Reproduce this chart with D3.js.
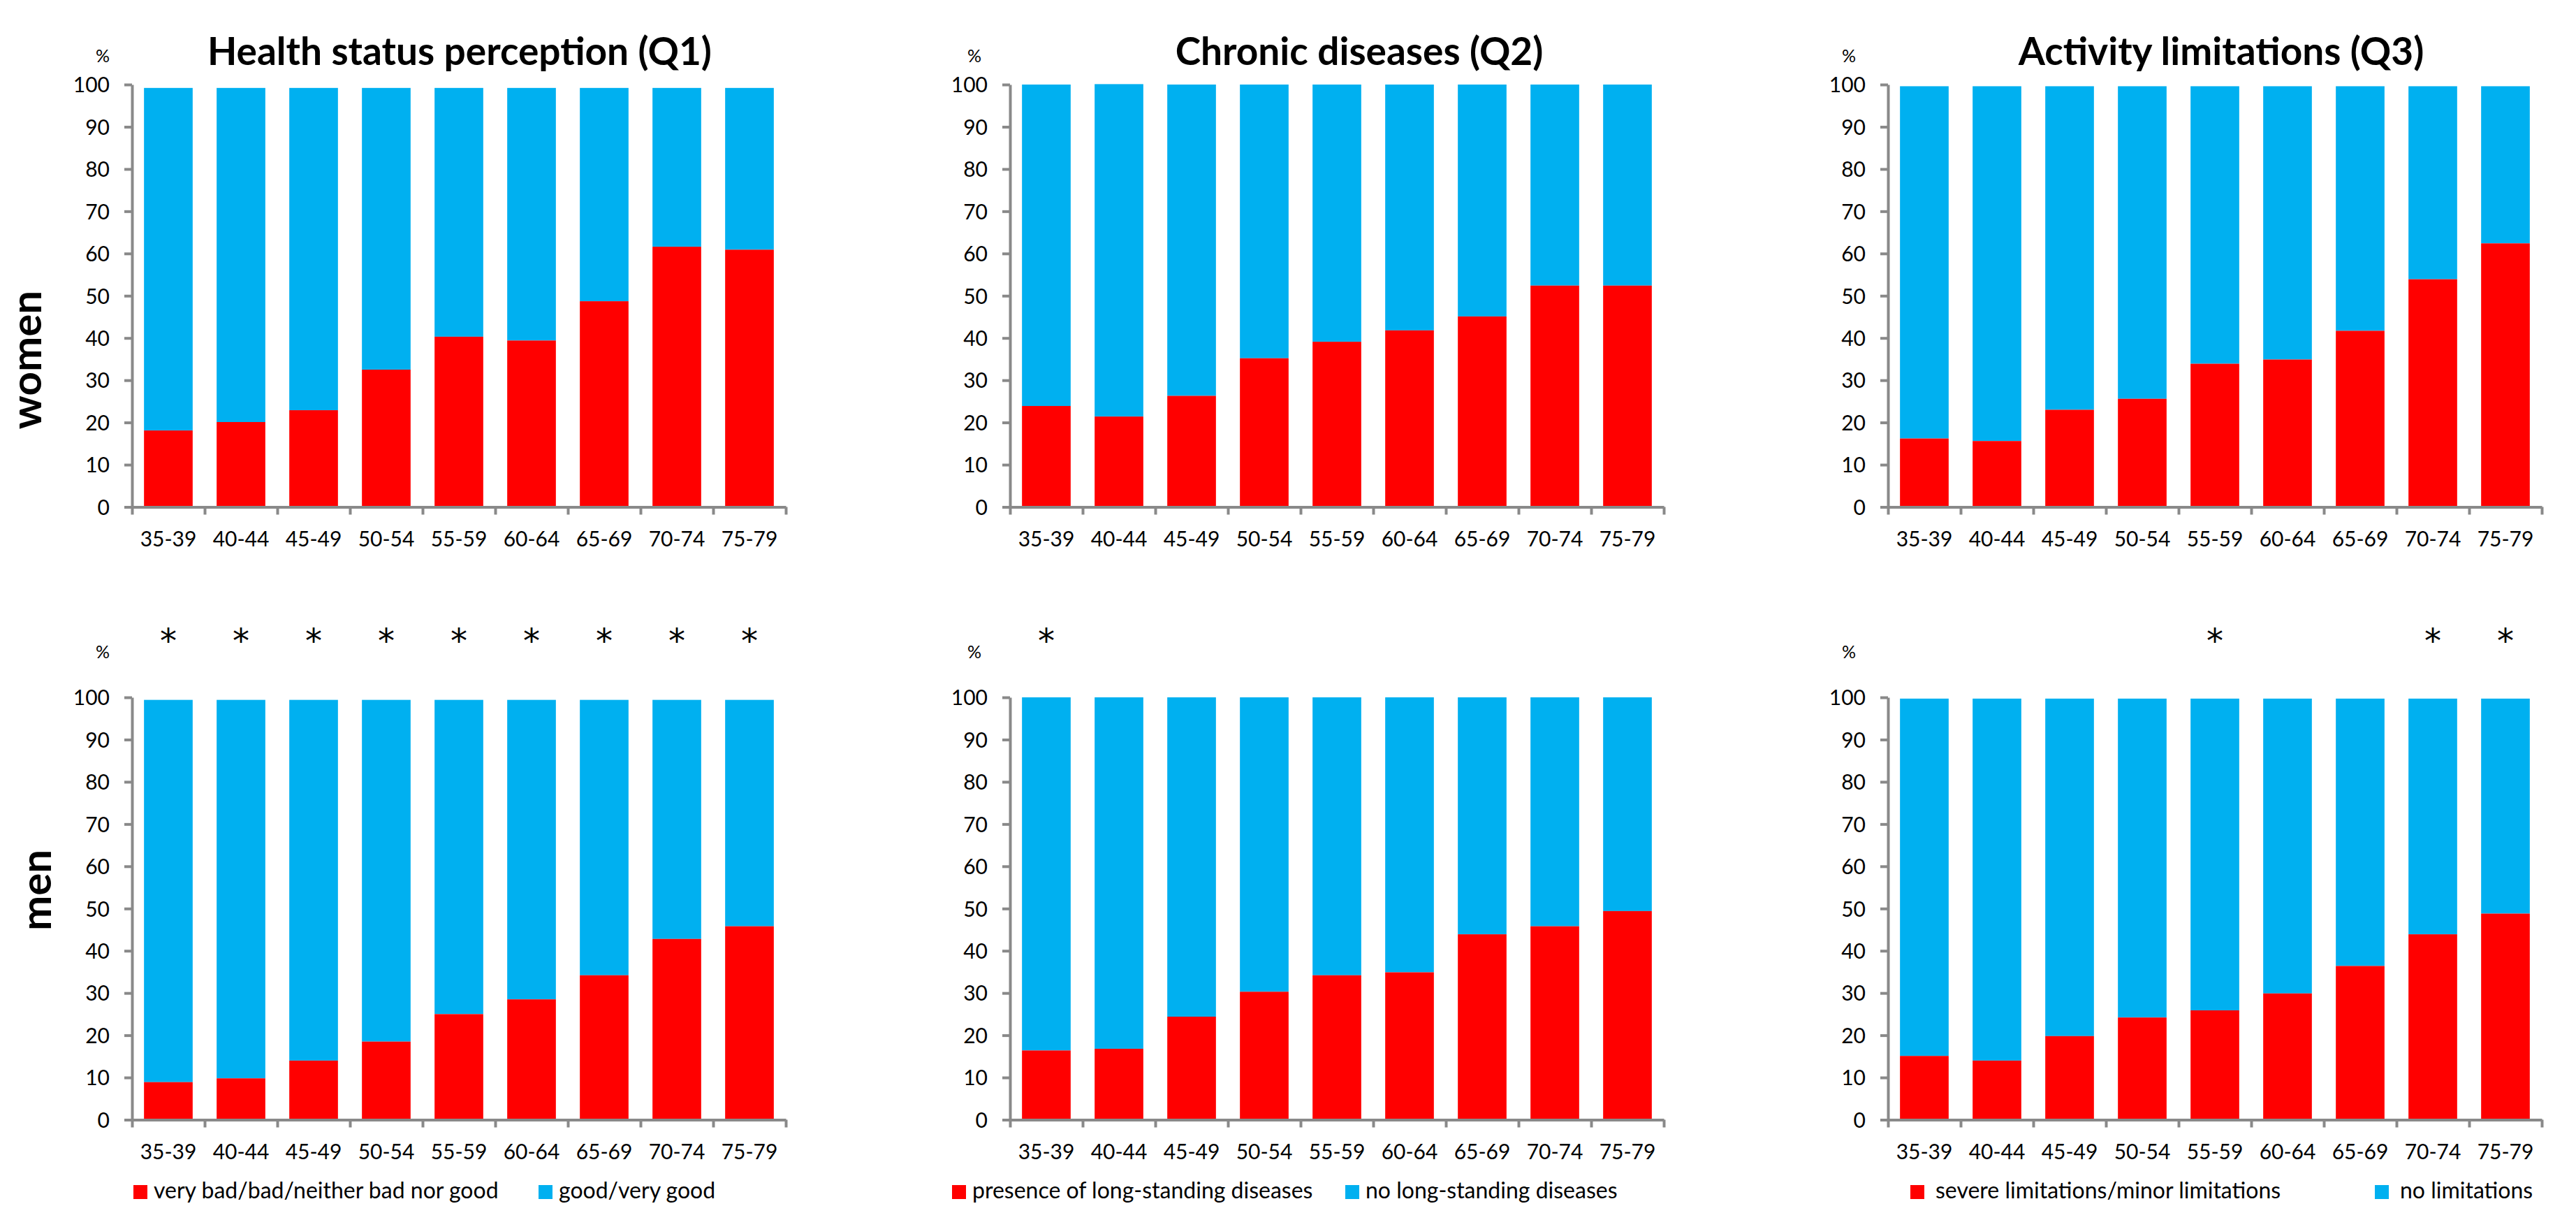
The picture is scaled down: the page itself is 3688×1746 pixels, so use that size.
<!DOCTYPE html>
<html>
<head>
<meta charset="utf-8">
<script src="https://cdn.jsdelivr.net/npm/d3@7"></script>
<style>
  body { margin: 0; background: #fff; }
  text { font-family: Lato, "Open Sans", sans-serif; fill: #000; }
</style>
</head>
<body>
<script>
// age groups on the x axis
const ageGroups = ["35-39", "40-44", "45-49", "50-54", "55-59", "60-64", "65-69", "70-74", "75-79"];
const yTicks = [0, 10, 20, 30, 40, 50, 60, 70, 80, 90, 100];

// Q1 health status perception
const womenBadHealth = [18.1, 20.1, 22.9, 32.5, 40.3, 39.4, 48.7, 61.6, 60.9];
const womenGoodHealth = [81.1, 79.1, 76.3, 66.7, 58.9, 59.8, 50.5, 37.6, 38.3];
const menBadHealth = [8.9, 9.8, 14.0, 18.5, 25.0, 28.5, 34.2, 42.8, 45.8];
const menGoodHealth = [90.5, 89.6, 85.4, 80.9, 74.4, 70.9, 65.2, 56.6, 53.6];

// Q2 chronic diseases
const womenChronic = [23.9, 21.4, 26.3, 35.2, 39.1, 41.8, 45.1, 52.4, 52.4];
const womenNoChronic = [76.1, 78.7, 73.7, 64.8, 60.9, 58.2, 54.9, 47.6, 47.6];
const menChronic = [16.4, 16.8, 24.4, 30.3, 34.2, 34.9, 43.9, 45.8, 49.4];
const menNoChronic = [83.6, 83.2, 75.6, 69.7, 65.8, 65.1, 56.1, 54.2, 50.6];

// Q3 activity limitations
const womenLimited = [16.2, 15.6, 23.0, 25.6, 33.9, 34.9, 41.7, 53.9, 62.4];
const womenNotLimited = [83.4, 84.0, 76.6, 74.0, 65.7, 64.7, 57.9, 45.7, 37.2];
const menLimited = [15.1, 14.0, 19.8, 24.2, 25.9, 29.9, 36.4, 43.9, 48.8];
const menNotLimited = [84.6, 85.7, 79.9, 75.5, 73.8, 69.8, 63.3, 55.8, 50.9];

// significant differences (marked with * above the men chart)
const q1Stars = ["35-39", "40-44", "45-49", "50-54", "55-59", "60-64", "65-69", "70-74", "75-79"];
const q2Stars = ["35-39"];
const q3Stars = ["55-59", "70-74", "75-79"];

const titles = ["Health status perception (Q1)", "Chronic diseases (Q2)", "Activity limitations (Q3)"];
const redLabels = ["very bad/bad/neither bad nor good", "presence of long-standing diseases", "severe limitations/minor limitations"];
const blueLabels = ["good/very good", "no long-standing diseases", "no limitations"];
const rowNames = ["women", "men"];

const RED = "#FF0000";
const BLUE = "#00B0F0";
const GREY = "#898989";

const W = 3688, H = 1746;
const plotW = 936, plotH = 604.5;
const colX = [189, 1446, 2703];
const rowTop = [121, 998];

// bits of layout per panel
const layout = [
    { titleDx: 469, pctDx: -42, redDx: 2, blueDx: 582, textGap: 29 },
    { titleDx: 500, pctDx: -51, redDx: -83, blueDx: 480, textGap: 29 },
    { titleDx: 477, pctDx: -56, redDx: 32, blueDx: 697, textGap: 36 }
];

const panels = [
    { rows: [[womenBadHealth, womenGoodHealth], [menBadHealth, menGoodHealth]], stars: q1Stars },
    { rows: [[womenChronic, womenNoChronic], [menChronic, menNoChronic]], stars: q2Stars },
    { rows: [[womenLimited, womenNotLimited], [menLimited, menNotLimited]], stars: q3Stars }
];

const svg = d3.select("body")
    .append("svg")
    .attr("width", W)
    .attr("height", H);

svg.append("rect").attr("width", W).attr("height", H).attr("fill", "#fff");

const x = d3.scaleBand()
    .domain(ageGroups)
    .range([0, plotW])
    .paddingInner(0.33)
    .paddingOuter(0.165);

// boundaries between categories, for the excel-like tick marks
const xEdge = d3.scaleLinear().domain([0, ageGroups.length]).range([0, plotW]);

const y = d3.scaleLinear().domain([0, 100]).range([plotH, 0]);

panels.forEach((panel, p) => {
    const lay = layout[p];

    // Title of the column
    svg.append("text")
        .attr("x", colX[p] + lay.titleDx)
        .attr("y", 93)
        .attr("text-anchor", "middle")
        .style("font-size", "55px")
        .style("font-weight", "bold")
        .text(titles[p]);

    panel.rows.forEach((series, r) => {
        const red = series[0], blue = series[1];
        const data = ageGroups.map((a, i) => ({ age: a, red: red[i], blue: blue[i] }));

        const g = svg.append("g")
            .attr("transform", "translate(" + colX[p] + "," + rowTop[r] + ")");

        g.selectAll(".blue")
            .data(data)
            .enter().append("rect")
            .attr("class", "blue")
            .attr("x", d => x(d.age))
            .attr("width", x.bandwidth())
            .attr("y", d => y(d.red + d.blue))
            .attr("height", d => y(d.red) - y(d.red + d.blue))
            .attr("fill", BLUE);

        g.selectAll(".red")
            .data(data)
            .enter().append("rect")
            .attr("class", "red")
            .attr("x", d => x(d.age))
            .attr("width", x.bandwidth())
            .attr("y", d => y(d.red))
            .attr("height", d => y(0) - y(d.red))
            .attr("fill", RED);

        // Y axis
        const yAxis = g.append("g")
            .call(d3.axisLeft(y).tickValues(yTicks).tickSize(11).tickSizeOuter(0).tickPadding(21));
        yAxis.selectAll("text").style("font-size", "30px").attr("dy", "0.36em");

        // X axis, ticks between the categories
        const xAxis = g.append("g")
            .attr("transform", "translate(0," + plotH + ")")
            .call(d3.axisBottom(xEdge).tickValues(d3.range(ageGroups.length + 1)).tickSize(11).tickSizeOuter(0).tickFormat(""));

        [yAxis, xAxis].forEach(a => {
            a.select(".domain").attr("stroke", GREY).attr("stroke-width", 4);
            a.selectAll(".tick line").attr("stroke", GREY).attr("stroke-width", 4);
        });

        g.selectAll(".age-label")
            .data(ageGroups)
            .enter().append("text")
            .attr("class", "age-label")
            .attr("x", d => x(d) + x.bandwidth() / 2)
            .attr("y", plotH + 56)
            .attr("text-anchor", "middle")
            .style("font-size", "30px")
            .text(d => d);

        // % unit label
        svg.append("text")
            .attr("x", colX[p] + lay.pctDx)
            .attr("y", r === 0 ? 89 : 942)
            .attr("text-anchor", "middle")
            .style("font-size", "25px")
            .text("%");

        if (r === 1) {
            svg.selectAll(".star" + p)
                .data(panel.stars)
                .enter().append("text")
                .attr("class", "star" + p)
                .attr("x", d => colX[p] + x(d) + x.bandwidth() / 2)
                .attr("y", 934)
                .attr("text-anchor", "middle")
                .style("font-family", "'DejaVu Sans', sans-serif")
                .style("font-size", "48px")
                .text("*");
        }
    });

    // Legend below the men chart
    const lg = svg.append("g");
    [[lay.redDx, RED, redLabels[p]], [lay.blueDx, BLUE, blueLabels[p]]].forEach(item => {
        lg.append("rect")
            .attr("x", colX[p] + item[0])
            .attr("y", 1696)
            .attr("width", 20)
            .attr("height", 20)
            .attr("fill", item[1]);
        lg.append("text")
            .attr("x", colX[p] + item[0] + lay.textGap)
            .attr("y", 1715)
            .style("font-size", "32px")
            .text(item[2]);
    });
});

// row labels
svg.append("text")
    .attr("transform", "translate(59,515) rotate(-90)")
    .attr("text-anchor", "middle")
    .style("font-size", "60px")
    .style("font-weight", "bold")
    .text(rowNames[0]);

svg.append("text")
    .attr("transform", "translate(73,1274) rotate(-90)")
    .attr("text-anchor", "middle")
    .style("font-size", "60px")
    .style("font-weight", "bold")
    .text(rowNames[1]);
</script>
</body>
</html>
